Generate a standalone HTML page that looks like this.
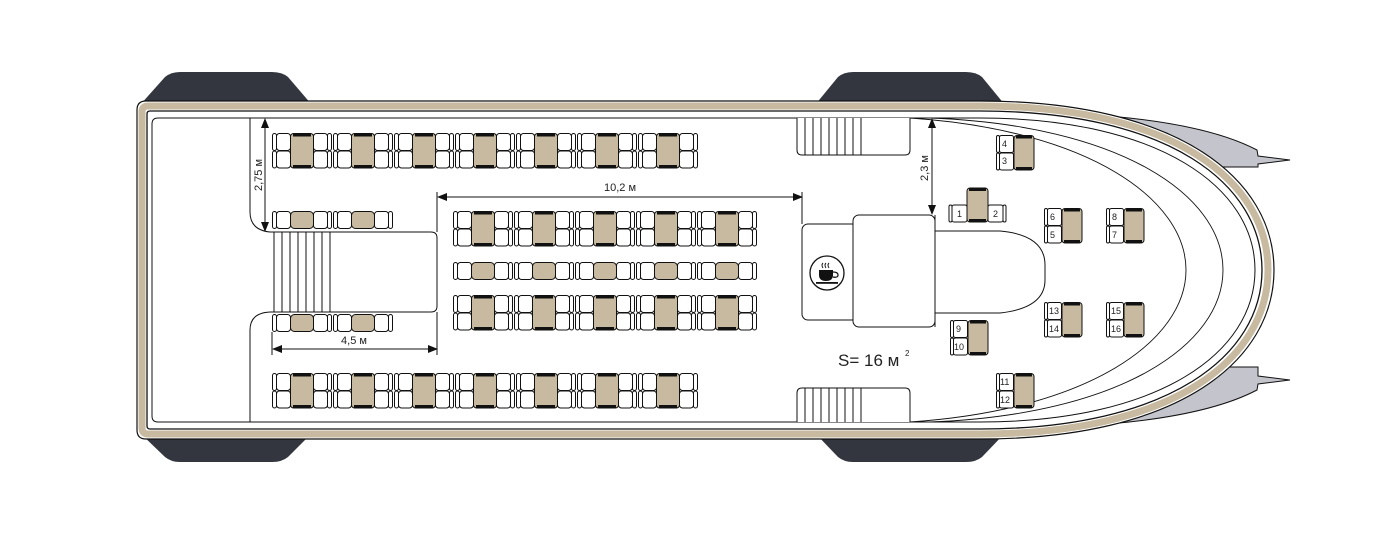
<!DOCTYPE html>
<html><head><meta charset="utf-8"><style>
html,body{margin:0;padding:0;background:#fff;width:1390px;height:542px;overflow:hidden}
svg{display:block}
text{font-family:"Liberation Sans",sans-serif;fill:#222}
</style></head><body>
<svg width="1390" height="542" viewBox="0 0 1390 542" xmlns="http://www.w3.org/2000/svg">
<defs>
<g id="blk">
  <rect x="0.5" y="0.5" width="4" height="17" rx="2" fill="#fff" stroke="#111" stroke-width="1"/>
  <rect x="4.5" y="0.5" width="14" height="17" rx="3" fill="#fff" stroke="#111" stroke-width="1"/>
  <rect x="0.5" y="18" width="4" height="17" rx="2" fill="#fff" stroke="#111" stroke-width="1"/>
  <rect x="4.5" y="18" width="14" height="17" rx="3" fill="#fff" stroke="#111" stroke-width="1"/>
  <rect x="18.5" y="0.5" width="23" height="34.5" rx="3" fill="#c7baa0" stroke="#111" stroke-width="1"/>
  <rect x="21" y="0.5" width="18" height="3" fill="#111"/>
  <rect x="21" y="32" width="18" height="3" fill="#111"/>
  <rect x="41.5" y="0.5" width="14" height="17" rx="3" fill="#fff" stroke="#111" stroke-width="1"/>
  <rect x="55.5" y="0.5" width="4" height="17" rx="2" fill="#fff" stroke="#111" stroke-width="1"/>
  <rect x="41.5" y="18" width="14" height="17" rx="3" fill="#fff" stroke="#111" stroke-width="1"/>
  <rect x="55.5" y="18" width="4" height="17" rx="2" fill="#fff" stroke="#111" stroke-width="1"/>
</g>
<g id="row">
  <rect x="0.5" y="0.5" width="4" height="17" rx="2" fill="#fff" stroke="#111"/>
  <rect x="4.5" y="0.5" width="14" height="17" rx="3" fill="#fff" stroke="#111"/>
  <rect x="18.5" y="0.5" width="23" height="17" rx="4" fill="#c7baa0" stroke="#111"/>
  <rect x="41.5" y="0.5" width="14" height="17" rx="3" fill="#fff" stroke="#111"/>
  <rect x="55.5" y="0.5" width="4" height="17" rx="2" fill="#fff" stroke="#111"/>
</g>
<g id="seat">
  <rect x="0.5" y="0.5" width="3" height="17" rx="1.5" fill="#fff" stroke="#111"/>
  <rect x="3.5" y="0.5" width="14" height="17" rx="2" fill="#fff" stroke="#111"/>
  <rect x="0.5" y="18" width="3" height="17" rx="1.5" fill="#fff" stroke="#111"/>
  <rect x="3.5" y="18" width="14" height="17" rx="2" fill="#fff" stroke="#111"/>
  <rect x="18" y="0.5" width="20" height="34.5" rx="3" fill="#c7baa0" stroke="#111"/>
  <rect x="20" y="0.5" width="16" height="3" fill="#111"/>
  <rect x="20" y="32" width="16" height="3" fill="#111"/>
</g>
<marker id="ar" markerWidth="10" markerHeight="8" refX="9" refY="4" orient="auto-start-reverse" markerUnits="userSpaceOnUse">
  <path d="M0,0 L10,4 L0,8 Z" fill="#111"/>
</marker>
</defs>

<!-- pods -->
<path d="M140,105 L165,77 Q171,72 180,72 H272 Q282,72 288,77 L312,105 Z" fill="#33363f"/>
<path d="M140,433 L165,457 Q171,462 180,462 H272 Q282,462 288,457 L312,433 Z" fill="#33363f"/>
<path d="M815,105 L838,77 Q844,72 853,72 H966 Q976,72 982,77 L1005,105 Z" fill="#33363f"/>
<path d="M815,433 L838,457 Q844,462 853,462 H966 Q976,462 982,457 L1005,433 Z" fill="#33363f"/>

<!-- fins -->
<path d="M1080,114 C1150,118 1215,128 1257,150 L1258,156 L1290,160 L1258,164 L1258,167 L1210,167 C1180,140 1130,122 1080,118 Z" fill="#c4c4cc" stroke="#111" stroke-width="1"/>
<path d="M1080,426 C1150,422 1215,412 1257,390 L1258,384 L1290,380 L1258,376 L1258,367 L1210,367 C1180,400 1130,418 1080,422 Z" fill="#c4c4cc" stroke="#111" stroke-width="1"/>

<!-- hull -->
<path d="M146,101 H980 C1180,101 1274,180 1274,270 C1274,360 1180,439 980,439 H146 Q137,439 137,430 V110 Q137,101 146,101 Z" fill="#fff" stroke="#111" stroke-width="1.2"/>
<path d="M148,106 H980 C1175,106 1268,182 1268,270 C1268,358 1175,434 980,434 H148 Q142,434 142,428 V112 Q142,106 148,106 Z" fill="none" stroke="#c7baa0" stroke-width="7"/>
<path d="M150,111 H980 C1170,111 1262,185 1262,270 C1262,355 1170,429 980,429 H150 Q147,429 147,426 V114 Q147,111 150,111 Z" fill="none" stroke="#111" stroke-width="1.3"/>
<path d="M158,118 H980 C1160,118 1255,188 1255,270 C1255,352 1160,422 980,422 H158 Q152,422 152,416 V124 Q152,118 158,118 Z" fill="#fff" stroke="#111" stroke-width="1"/>
<!-- inner curves -->
<path d="M930,118 C1120,125 1223,195 1223,270 C1223,345 1120,415 930,422" fill="none" stroke="#111" stroke-width="0.9"/>
<path d="M910,118 C1090,130 1186,200 1186,270 C1186,340 1090,410 910,422" fill="none" stroke="#111" stroke-width="0.9"/>

<!-- left walls -->
<path d="M250,118 V212 Q250,230 270,232" fill="none" stroke="#111"/>
<path d="M250,422 V330 Q250,313 270,312" fill="none" stroke="#111"/>

<!-- left stairs -->
<path d="M270,232 H431 Q437,232 437,238 V306 Q437,312 431,312 H270" fill="#fff" stroke="#111"/>
<g stroke="#111" stroke-width="1">
<line x1="274" y1="232" x2="274" y2="312"/><line x1="282" y1="232" x2="282" y2="312"/><line x1="290" y1="232" x2="290" y2="312"/><line x1="298" y1="232" x2="298" y2="312"/><line x1="306" y1="232" x2="306" y2="312"/><line x1="314" y1="232" x2="314" y2="312"/><line x1="322" y1="232" x2="322" y2="312"/><line x1="330" y1="232" x2="330" y2="312"/>
</g>

<!-- bow stairs -->
<path d="M797,118 V150 Q797,155 802,155 H905 Q910,155 910,150 V118" fill="#fff" stroke="#111"/>
<path d="M797,422 V393 Q797,388 802,388 H905 Q910,388 910,393 V422" fill="#fff" stroke="#111"/>
<g stroke="#111">
<line x1="805" y1="118" x2="805" y2="155"/><line x1="813" y1="118" x2="813" y2="155"/><line x1="821" y1="118" x2="821" y2="155"/><line x1="829" y1="118" x2="829" y2="155"/><line x1="837" y1="118" x2="837" y2="155"/><line x1="845" y1="118" x2="845" y2="155"/><line x1="853" y1="118" x2="853" y2="155"/><line x1="861" y1="118" x2="861" y2="155"/>
<line x1="805" y1="388" x2="805" y2="422"/><line x1="813" y1="388" x2="813" y2="422"/><line x1="821" y1="388" x2="821" y2="422"/><line x1="829" y1="388" x2="829" y2="422"/><line x1="837" y1="388" x2="837" y2="422"/><line x1="845" y1="388" x2="845" y2="422"/><line x1="853" y1="388" x2="853" y2="422"/><line x1="861" y1="388" x2="861" y2="422"/>
</g>

<!-- cafe -->
<rect x="802" y="224" width="56" height="96" rx="6" fill="#fff" stroke="#111"/>
<path d="M935,231 H1000 Q1045,235 1045,265 V280 Q1045,308 1000,313 H935" fill="#fff" stroke="#111"/>
<rect x="853" y="215" width="82" height="112" rx="6" fill="#fff" stroke="#111"/>
<path d="M935,215 V327" stroke="#111"/>
<circle cx="827" cy="273" r="17" fill="#fff" stroke="#111" stroke-width="1.3"/>
<path d="M819,270 H833 V275 Q833,281 826,281 Q819,281 819,275 Z" fill="#111"/>
<path d="M833,272 Q838,272 838,275 Q838,278 833,277" fill="none" stroke="#111" stroke-width="1.2"/>
<rect x="816" y="282" width="22" height="1.8" fill="#111"/>
<path d="M823,268 q-2,-3 0,-5 M826,268 q-2,-3 0,-5 M829,268 q-2,-3 0,-5" fill="none" stroke="#111" stroke-width="1"/>

<!-- seat blocks -->
<use href="#blk" x="272" y="133"/><use href="#blk" x="333" y="133"/><use href="#blk" x="394" y="133"/><use href="#blk" x="455" y="133"/><use href="#blk" x="516" y="133"/><use href="#blk" x="577" y="133"/><use href="#blk" x="638" y="133"/>
<use href="#blk" x="272" y="373"/><use href="#blk" x="333" y="373"/><use href="#blk" x="394" y="373"/><use href="#blk" x="455" y="373"/><use href="#blk" x="516" y="373"/><use href="#blk" x="577" y="373"/><use href="#blk" x="638" y="373"/>
<use href="#blk" x="453" y="211"/><use href="#blk" x="514" y="211"/><use href="#blk" x="575" y="211"/><use href="#blk" x="636" y="211"/><use href="#blk" x="697" y="211"/>
<use href="#blk" x="453" y="295"/><use href="#blk" x="514" y="295"/><use href="#blk" x="575" y="295"/><use href="#blk" x="636" y="295"/><use href="#blk" x="697" y="295"/>
<use href="#row" x="453" y="262"/><use href="#row" x="514" y="262"/><use href="#row" x="575" y="262"/><use href="#row" x="636" y="262"/><use href="#row" x="697" y="262"/>
<use href="#row" x="272" y="211"/><use href="#row" x="333" y="211"/>
<use href="#row" x="272" y="314"/><use href="#row" x="333" y="314"/>

<!-- front seats -->
<g font-size="9">
<use href="#seat" x="996" y="135"/><text x="1002" y="147">4</text><text x="1002" y="164">3</text>
<use href="#seat" x="1044" y="208"/><text x="1050" y="220">6</text><text x="1050" y="238">5</text>
<use href="#seat" x="1106" y="208"/><text x="1112" y="220">8</text><text x="1112" y="238">7</text>
<use href="#seat" x="1044" y="302"/><text x="1049" y="314">13</text><text x="1049" y="332">14</text>
<use href="#seat" x="1106" y="302"/><text x="1111" y="314">15</text><text x="1111" y="332">16</text>
<use href="#seat" x="950" y="320"/><text x="956" y="332">9</text><text x="954" y="350">10</text>
<use href="#seat" x="996" y="373"/><text x="1000" y="385">11</text><text x="1000" y="403">12</text>
<rect x="949" y="205" width="3" height="17" rx="1.5" fill="#fff" stroke="#111"/>
<rect x="952" y="205" width="15" height="17" rx="2" fill="#fff" stroke="#111"/>
<rect x="988" y="205" width="15" height="17" rx="2" fill="#fff" stroke="#111"/>
<rect x="1003" y="205" width="3" height="17" rx="1.5" fill="#fff" stroke="#111"/>
<rect x="967" y="188" width="21" height="34" rx="3" fill="#c7baa0" stroke="#111"/>
<rect x="969" y="188" width="17" height="3" fill="#111"/><rect x="969" y="219" width="17" height="3" fill="#111"/>
<text x="957" y="217">1</text><text x="993" y="217">2</text>
</g>

<!-- dimensions -->
<g stroke="#111" stroke-width="1" fill="none">
<line x1="265" y1="119" x2="265" y2="231" marker-start="url(#ar)" marker-end="url(#ar)"/>
<line x1="438" y1="197" x2="802" y2="197" marker-start="url(#ar)" marker-end="url(#ar)"/>
<line x1="437" y1="192" x2="437" y2="232"/><line x1="802" y1="192" x2="802" y2="224"/>
<line x1="273" y1="349" x2="437" y2="349" marker-start="url(#ar)" marker-end="url(#ar)"/>
<line x1="272" y1="332" x2="272" y2="355"/><line x1="437" y1="312" x2="437" y2="355"/>
<line x1="932" y1="119" x2="932" y2="214" marker-start="url(#ar)" marker-end="url(#ar)"/>
</g>
<text x="620" y="191" font-size="11" text-anchor="middle">10,2 м</text>
<text x="354" y="344" font-size="11" text-anchor="middle">4,5 м</text>
<text transform="translate(262,175) rotate(-90)" font-size="11" text-anchor="middle">2,75 м</text>
<text transform="translate(928,168) rotate(-90)" font-size="11" text-anchor="middle">2,3 м</text>
<text x="838" y="366" font-size="17">S= 16 м</text>
<text x="905" y="356" font-size="8">2</text>
</svg>
</body></html>
